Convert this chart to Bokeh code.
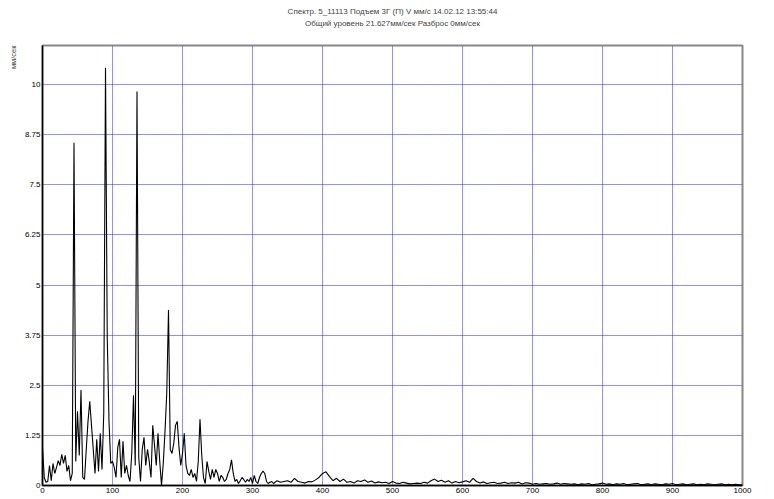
import numpy as np
from bokeh.plotting import figure
from bokeh.models import Range1d, FixedTicker, Title, ColumnDataSource
from bokeh.embed import file_html
from bokeh.resources import INLINE

title_line1 = "Спектр. 5_11113 Подъем 3Г (П) V мм/с 14.02.12 13:55:44"
title_line2 = "Общий уровень 21.627мм/сек Разброс 0мм/сек"
y_label = "мм/сек"

x_ticks = [0, 100, 200, 300, 400, 500, 600, 700, 800, 900, 1000]
y_ticks = [0, 1.25, 2.5, 3.75, 5, 6.25, 7.5, 8.75, 10]
y_tick_labels = ["0", "1.25", "2.5", "3.75", "5", "6.25", "7.5", "8.75", "10"]

# low band: 0 .. 330 Hz, step 2.5 Hz
low_start, low_step = 0.0, 2.5
low_vals = [
    0.95, 0.2, 0.08, 0.1, 0.5, 0.12, 0.55, 0.3, 0.45, 0.62,
    0.5, 0.78, 0.55, 0.75, 0.35, 0.5, 0.12, 0.3, 8.55, 0.6,
    1.85, 0.75, 2.38, 0.2, 0.15, 0.9, 1.6, 2.1, 1.5, 0.9,
    0.3, 1.15, 0.35, 1.3, 0.4, 1.8, 10.42, 3.7, 1.6, 0.55,
    0.6, 0.45, 0.2, 0.95, 1.15, 0.2, 1.1, 0.3, 0.5, 0.25,
    0.1, 0.8, 2.25, 0.5, 9.83, 0.7, 0.1, 0.9, 1.2, 0.5,
    0.9, 0.6, 0.2, 1.5, 1.0, 0.5, 1.3, 0.6, 0.0, 0.55,
    1.35, 2.3, 4.38, 0.9, 0.8, 1.05, 1.5, 1.6, 0.95, 0.5,
    0.8, 1.3, 0.5, 0.3, 0.25, 0.4, 0.2, 0.3, 0.1, 0.6,
    1.65, 0.75, 0.2, 0.05, 0.6, 0.35, 0.15, 0.4, 0.2, 0.4,
    0.3, 0.1, 0.25, 0.2, 0.1, 0.15, 0.3, 0.4, 0.64, 0.3,
    0.1, 0.15, 0.05, 0.12, 0.2, 0.15, 0.08, 0.15, 0.1, 0.2,
    0.05, 0.25, 0.1, 0.05, 0.2, 0.3, 0.36, 0.3, 0.1, 0.05,
    0.08, 0.1, 0.05,
]
# high band: 335 .. 1000 Hz, step 5 Hz
high_start, high_step = 335.0, 5.0
high_vals = [
    0.12, 0.08, 0.1, 0.12, 0.08, 0.18, 0.1, 0.08, 0.06, 0.1,
    0.09, 0.14, 0.2, 0.3, 0.34, 0.22, 0.12, 0.18, 0.1, 0.16,
    0.08, 0.1, 0.06, 0.12, 0.1, 0.14, 0.08, 0.11, 0.06, 0.09,
    0.07, 0.08, 0.05, 0.1, 0.06, 0.05, 0.08, 0.06, 0.04, 0.05,
    0.06, 0.05, 0.08, 0.06, 0.12, 0.16, 0.1, 0.13, 0.08, 0.12,
    0.06, 0.1, 0.07, 0.09, 0.12, 0.08, 0.18, 0.1, 0.06, 0.09,
    0.05, 0.07, 0.08, 0.05, 0.06, 0.08, 0.05, 0.07, 0.06, 0.08,
    0.04, 0.07, 0.06, 0.03, 0.05, 0.03, 0.04, 0.05, 0.03, 0.04,
    0.06, 0.03, 0.05, 0.04, 0.03, 0.04, 0.02, 0.04, 0.03, 0.05,
    0.02, 0.03, 0.04, 0.06, 0.03, 0.04, 0.02, 0.04, 0.03, 0.05,
    0.02, 0.03, 0.04, 0.05, 0.02, 0.03, 0.04, 0.02, 0.04, 0.03,
    0.02, 0.04, 0.03, 0.05, 0.02, 0.03, 0.04, 0.02, 0.03, 0.04,
    0.02, 0.03, 0.02, 0.04, 0.03, 0.02, 0.03, 0.04, 0.02, 0.03,
    0.02, 0.03, 0.02, 0.02,
]

freq = np.concatenate([
    low_start + low_step * np.arange(len(low_vals)),
    high_start + high_step * np.arange(len(high_vals)),
])
amp = np.array(low_vals + high_vals)
src = ColumnDataSource(dict(f=freq, a=amp))

FONT = "Liberation Sans"
FS = "8px"

p = figure(width=766, height=499, output_backend="svg", toolbar_location=None,
           x_range=Range1d(0, 1000), y_range=Range1d(0, 10.975),
           min_border_left=42, min_border_right=24, min_border_top=45,
           min_border_bottom=14)
p.background_fill_color = "white"
p.border_fill_color = "white"
p.outline_line_color = "#888888"
p.outline_line_width = 2

p.title.text = title_line1
p.title.align = "center"
p.title.text_font = FONT
p.title.text_font_size = FS
p.title.text_font_style = "normal"
p.title.standoff = 2
t2 = Title(text=title_line2 + "\n\n", align="center", text_font=FONT,
           text_font_size=FS, text_font_style="normal", standoff=0,
           text_line_height=1.0)
p.add_layout(t2, "above")

yl = Title(text=y_label, align="right", text_font=FONT, text_font_size="7.5px",
           text_font_style="normal", standoff=7)
p.add_layout(yl, "left")

p.line("f", "a", source=src, line_color="black", line_width=1.1)

for ax in (p.xaxis[0], p.yaxis[0]):
    ax.axis_line_color = "black"
    ax.axis_line_width = 1.5
    ax.major_tick_line_color = None
    ax.minor_tick_line_color = None
    ax.major_tick_out = 0
    ax.major_tick_in = 0
    ax.minor_tick_out = 0
    ax.minor_tick_in = 0
    ax.major_label_text_font = FONT
    ax.major_label_text_font_size = FS
    ax.major_label_text_color = "black"
    ax.major_label_standoff = 2

p.xaxis.ticker = FixedTicker(ticks=x_ticks)
p.yaxis.ticker = FixedTicker(ticks=y_ticks)
p.yaxis.major_label_overrides = {t: s for t, s in zip(y_ticks, y_tick_labels)}

for g in (p.xgrid[0], p.ygrid[0]):
    g.grid_line_color = "#2020ff"
    g.grid_line_dash = "1 1"
    g.grid_line_width = 1
p.xgrid.ticker = FixedTicker(ticks=x_ticks[1:])
p.ygrid.ticker = FixedTicker(ticks=y_ticks[1:])

open("out.html", "w").write(file_html(p, INLINE))
